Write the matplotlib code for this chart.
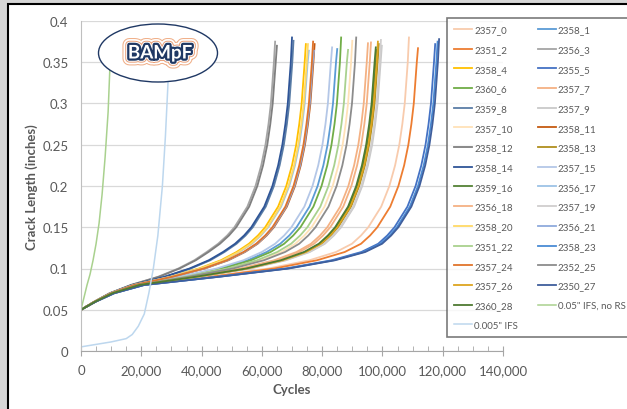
import matplotlib
matplotlib.use("Agg")
import matplotlib.pyplot as plt
import matplotlib.patheffects as pe
from matplotlib.patches import Ellipse, Rectangle
from matplotlib.ticker import MultipleLocator, FuncFormatter

plt.rcParams["font.family"] = ["Lato", "DejaVu Sans"]

series_names = [
    "2357_0", "2358_1", "2351_2", "2356_3", "2358_4", "2355_5", "2360_6",
    "2357_7", "2359_8", "2357_9", "2357_10", "2358_11", "2358_12", "2358_13",
    "2358_14", "2357_15", "2359_16", "2356_17", "2356_18", "2357_19",
    "2358_20", "2356_21", "2351_22", "2358_23", "2357_24", "2352_25",
    "2357_26", "2350_27", "2360_28",
]
series_colors = [
    "#F8CBAD", "#5B9BD5", "#ED7D31", "#A5A5A5", "#FFC000", "#4472C4", "#70AD47",
    "#F4B183", "#5A7DA6", "#C9C9C9", "#FFE2B8", "#C55A11", "#7F7F7F", "#B08F1E",
    "#2F5597", "#B4C7E7", "#548235", "#9DC3E6", "#F4B183", "#D0CECE",
    "#FFD966", "#8FAADC", "#A9D18E", "#4A8BD4", "#E0742B", "#8C8C8C",
    "#DDA520", "#3F5E9C", "#4E7A32",
]

# crack length (in) where the cycle counts below were read
crack_levels = [0.05, 0.06, 0.07, 0.08, 0.09, 0.10, 0.11, 0.12, 0.13, 0.14, 0.15,
                0.175, 0.20, 0.225, 0.25, 0.275, 0.30, 0.325, 0.35]

# cycles (thousands) at each crack level, one row per specimen
cycles_k = [
    [0, 4.9, 10.7, 20.2, 42.2, 62.2, 75.8, 84.6, 89.9, 92.9, 95.3, 99.6, 102.3, 104.2, 105.6, 106.6, 107.4, 107.9, 108.4],
    [0, 4.7, 10.1, 18.2, 33.3, 46.1, 55.3, 61.6, 66.1, 69.1, 71.5, 75.8, 78.5, 80.4, 81.8, 82.8, 83.6, 84.1, 84.6],
    [0, 4.9, 10.8, 20.4, 43.3, 64.2, 78.3, 87.5, 92.9, 95.9, 98.3, 102.6, 105.3, 107.2, 108.6, 109.6, 110.4, 110.9, 111.4],
    [0, 4.5, 9.5, 16.5, 25.6, 32.3, 37.6, 41.7, 45.5, 48.5, 50.9, 55.2, 57.9, 59.8, 61.2, 62.2, 63.0, 63.5, 64.0],
    [0, 4.6, 9.8, 17.4, 29.5, 39.1, 46.4, 51.6, 55.7, 58.7, 61.1, 65.4, 68.1, 70.0, 71.4, 72.4, 73.2, 73.7, 74.2],
    [0, 5.0, 11.0, 20.9, 45.4, 68.0, 83.2, 93.0, 98.6, 101.6, 104.0, 108.3, 111.0, 112.9, 114.3, 115.3, 116.1, 116.6, 117.1],
    [0, 4.7, 10.1, 18.3, 33.8, 47.0, 56.4, 62.9, 67.4, 70.4, 72.8, 77.1, 79.8, 81.7, 83.1, 84.1, 84.9, 85.4, 85.9],
    [0, 4.8, 10.4, 19.1, 37.1, 53.0, 64.1, 71.5, 76.3, 79.3, 81.7, 86.0, 88.7, 90.6, 92.0, 93.0, 93.8, 94.3, 94.8],
    [0, 4.6, 9.7, 17.0, 27.9, 36.4, 42.9, 47.6, 51.6, 54.6, 57.0, 61.3, 64.0, 65.9, 67.3, 68.3, 69.1, 69.6, 70.1],
    [0, 4.8, 10.5, 19.4, 38.8, 56.1, 68.0, 75.9, 80.9, 83.9, 86.3, 90.6, 93.3, 95.2, 96.6, 97.6, 98.4, 98.9, 99.4],
    [0, 4.7, 10.2, 18.6, 35.2, 49.5, 59.6, 66.5, 71.1, 74.1, 76.5, 80.8, 83.5, 85.4, 86.8, 87.8, 88.6, 89.1, 89.6],
    [0, 4.6, 9.9, 17.6, 30.5, 41.1, 48.9, 54.4, 58.6, 61.6, 64.0, 68.3, 71.0, 72.9, 74.3, 75.3, 76.1, 76.6, 77.1],
    [0, 4.5, 9.5, 16.6, 25.9, 32.7, 38.1, 42.3, 46.1, 49.1, 51.5, 55.8, 58.5, 60.4, 61.8, 62.8, 63.6, 64.1, 64.6],
    [0, 4.8, 10.4, 19.3, 38.5, 55.4, 67.2, 75.0, 79.9, 82.9, 85.3, 89.6, 92.3, 94.2, 95.6, 96.6, 97.4, 97.9, 98.4],
    [0, 4.6, 9.7, 17.0, 27.7, 36.0, 42.4, 47.1, 51.1, 54.1, 56.5, 60.8, 63.5, 65.4, 66.8, 67.8, 68.6, 69.1, 69.6],
    [0, 4.7, 10.0, 18.1, 32.7, 45.0, 53.9, 60.0, 64.4, 67.4, 69.8, 74.1, 76.8, 78.7, 80.1, 81.1, 81.9, 82.4, 82.9],
    [0, 4.8, 10.4, 19.3, 38.3, 55.0, 66.7, 74.4, 79.3, 82.3, 84.7, 89.0, 91.7, 93.6, 95.0, 96.0, 96.8, 97.3, 97.8],
    [0, 4.6, 9.8, 17.4, 29.8, 39.8, 47.3, 52.5, 56.7, 59.7, 62.1, 66.4, 69.1, 71.0, 72.4, 73.4, 74.2, 74.7, 75.2],
    [0, 4.8, 10.4, 19.1, 37.5, 53.6, 64.9, 72.5, 77.3, 80.3, 82.7, 87.0, 89.7, 91.6, 93.0, 94.0, 94.8, 95.3, 95.8],
    [0, 4.8, 10.5, 19.4, 38.7, 55.9, 67.7, 75.6, 80.6, 83.6, 86.0, 90.3, 93.0, 94.9, 96.3, 97.3, 98.1, 98.6, 99.1],
    [0, 4.6, 9.8, 17.4, 29.7, 39.6, 47.0, 52.2, 56.4, 59.4, 61.8, 66.1, 68.8, 70.7, 72.1, 73.1, 73.9, 74.4, 74.9],
    [0, 4.6, 9.9, 17.6, 30.5, 41.0, 48.7, 54.2, 58.4, 61.4, 63.8, 68.1, 70.8, 72.7, 74.1, 75.1, 75.9, 76.4, 76.9],
    [0, 4.7, 10.2, 18.5, 34.7, 48.5, 58.4, 65.1, 69.7, 72.7, 75.1, 79.4, 82.1, 84.0, 85.4, 86.4, 87.2, 87.7, 88.2],
    [0, 5.0, 11.0, 20.9, 45.7, 68.5, 83.9, 93.8, 99.4, 102.4, 104.8, 109.1, 111.8, 113.7, 115.1, 116.1, 116.9, 117.4, 117.9],
    [0, 4.6, 9.9, 17.6, 30.3, 40.7, 48.4, 53.9, 58.1, 61.1, 63.5, 67.8, 70.5, 72.4, 73.8, 74.8, 75.6, 76.1, 76.6],
    [0, 4.7, 10.2, 18.7, 35.7, 50.4, 60.7, 67.7, 72.4, 75.4, 77.8, 82.1, 84.8, 86.7, 88.1, 89.1, 89.9, 90.4, 90.9],
    [0, 4.8, 10.4, 19.3, 38.4, 55.2, 66.9, 74.7, 79.6, 82.6, 85.0, 89.3, 92.0, 93.9, 95.3, 96.3, 97.1, 97.6, 98.1],
    [0, 5.0, 11.0, 21.0, 45.9, 68.9, 84.3, 94.3, 99.9, 102.9, 105.3, 109.6, 112.3, 114.2, 115.6, 116.6, 117.4, 117.9, 118.4],
    [0, 4.8, 10.4, 19.3, 38.1, 54.8, 66.3, 74.0, 78.9, 81.9, 84.3, 88.6, 91.3, 93.2, 94.6, 95.6, 96.4, 96.9, 97.4],
]
# last reading of each specimen
final_cycles_k = [
    108.8, 85.0, 111.8, 64.4, 74.6, 117.5, 86.3, 95.2, 70.5, 99.8, 90.0, 77.5,
    65.0, 98.8, 70.0, 83.3, 98.2, 75.6, 96.2, 99.5, 75.3, 77.3, 88.6, 118.3,
    77.0, 91.3, 98.5, 118.8, 97.8,
]
final_crack = [
    0.380, 0.366, 0.367, 0.375, 0.372, 0.372, 0.380, 0.373, 0.376, 0.370, 0.376,
    0.372, 0.370, 0.372, 0.380, 0.368, 0.365, 0.364, 0.374, 0.377, 0.372, 0.364,
    0.365, 0.375, 0.375, 0.380, 0.375, 0.378, 0.368,
]

# prediction curves
ifs_no_rs_cycles_k = [0, 1.0, 2.0, 3.0, 4.0, 5.0, 6.0, 7.0, 8.0, 9.0, 9.6]
ifs_no_rs_crack = [0.05, 0.065, 0.08, 0.093, 0.11, 0.13, 0.155, 0.19, 0.235, 0.29, 0.345]
ifs_small_cycles_k = [0, 5, 10, 15, 17, 19, 21, 22.5, 24, 25.5, 27, 28, 28.8, 29.4]
ifs_small_crack = [0.005, 0.008, 0.011, 0.015, 0.02, 0.03, 0.045, 0.07, 0.10, 0.14, 0.20, 0.26, 0.32, 0.372]

W, H = 627, 410
fig = plt.figure(figsize=(W / 100, H / 100), dpi=100)
fig.patch.set_facecolor("#d6d6d6")
fig.patches.append(Rectangle((8 / W, -0.1), 1.2, 1.1 - 5 / H, transform=fig.transFigure,
                             facecolor="white", edgecolor="black", linewidth=1.5, zorder=-1))

ax = fig.add_axes([81 / W, 1 - 352 / H, (503 - 81) / W, (352 - 22) / H])
ax.set_facecolor("none")

handles = []
for i, name in enumerate(series_names):
    xs = [c * 1000 for c in cycles_k[i]] + [final_cycles_k[i] * 1000]
    ys = crack_levels + [final_crack[i]]
    h, = ax.plot(xs, ys, color=series_colors[i], lw=1.3, label=name)
    handles.append(h)
h, = ax.plot([c * 1000 for c in ifs_no_rs_cycles_k], ifs_no_rs_crack, color="#A9D18E",
             lw=1.1, label='0.05" IFS, no RS')
handles.append(h)
h, = ax.plot([c * 1000 for c in ifs_small_cycles_k], ifs_small_crack, color="#BDD7EE",
             lw=1.1, label='0.005" IFS')
handles.append(h)

ax.set_xlim(0, 140000)
ax.set_ylim(0, 0.4)
ax.xaxis.set_major_locator(MultipleLocator(20000))
ax.xaxis.set_minor_locator(MultipleLocator(5000))
ax.yaxis.set_major_locator(MultipleLocator(0.05))
ax.xaxis.set_major_formatter(FuncFormatter(lambda v, p: f"{v:,.0f}"))
ax.yaxis.set_major_formatter(FuncFormatter(lambda v, p: f"{v:g}"))
ax.grid(axis="y", color="#d9d9d9", lw=0.9)
ax.set_axisbelow(True)
for s in ("top", "right"):
    ax.spines[s].set_visible(False)
ax.spines["left"].set_color("#bfbfbf")
ax.spines["bottom"].set_color("#a6a6a6")
ax.tick_params(axis="y", length=0, pad=9, labelsize=9.5, labelcolor="#595959")
ax.tick_params(axis="x", which="major", direction="inout", length=7, color="#a6a6a6",
               pad=6, labelsize=9.5, labelcolor="#595959")
ax.tick_params(axis="x", which="minor", direction="in", length=3.5, color="#a6a6a6")
ax.set_xlabel("Cycles", fontsize=9.5, fontweight="bold", color="#595959", labelpad=5)
ax.set_ylabel("Crack Length (inches)", fontsize=9.5, fontweight="bold", color="#595959",
              labelpad=3)

# logo
logo = Ellipse((158 / W, 1 - 54 / H), 119 / W, 58 / H, transform=fig.transFigure,
               facecolor="white", edgecolor="#1F3864", lw=1.0, zorder=5)
fig.patches.append(logo)
fig.text(160 / W, 1 - 54 / H, "BAMpF", ha="center", va="center", fontsize=13.5,
         fontweight="bold", color="white", zorder=6,
         path_effects=[pe.Stroke(linewidth=10, foreground="#F0B08A"),
                       pe.Stroke(linewidth=8.5, foreground="white"),
                       pe.Stroke(linewidth=6, foreground="#E8A07A"),
                       pe.Stroke(linewidth=4.6, foreground="white"),
                       pe.Stroke(linewidth=3.2, foreground="#1F3864"),
                       pe.Normal()])

# legend, filled row by row like the source
order = list(range(0, 31, 2)) + list(range(1, 31, 2))
leg = fig.legend([handles[k] for k in order], [handles[k].get_label() for k in order],
                 ncol=2, loc="upper left", bbox_to_anchor=(447 / W, 1 - 19 / H),
                 fontsize=7, labelspacing=1.1, handlelength=1.85,
                 handletextpad=0.2, columnspacing=2.05, borderpad=0.75, borderaxespad=0,
                 fancybox=False, frameon=True, labelcolor="#595959")
leg.get_frame().set_edgecolor("#595959")
leg.get_frame().set_linewidth(1.2)
leg.set_zorder(10)

fig.savefig("out.png", dpi=100, facecolor=fig.get_facecolor())
